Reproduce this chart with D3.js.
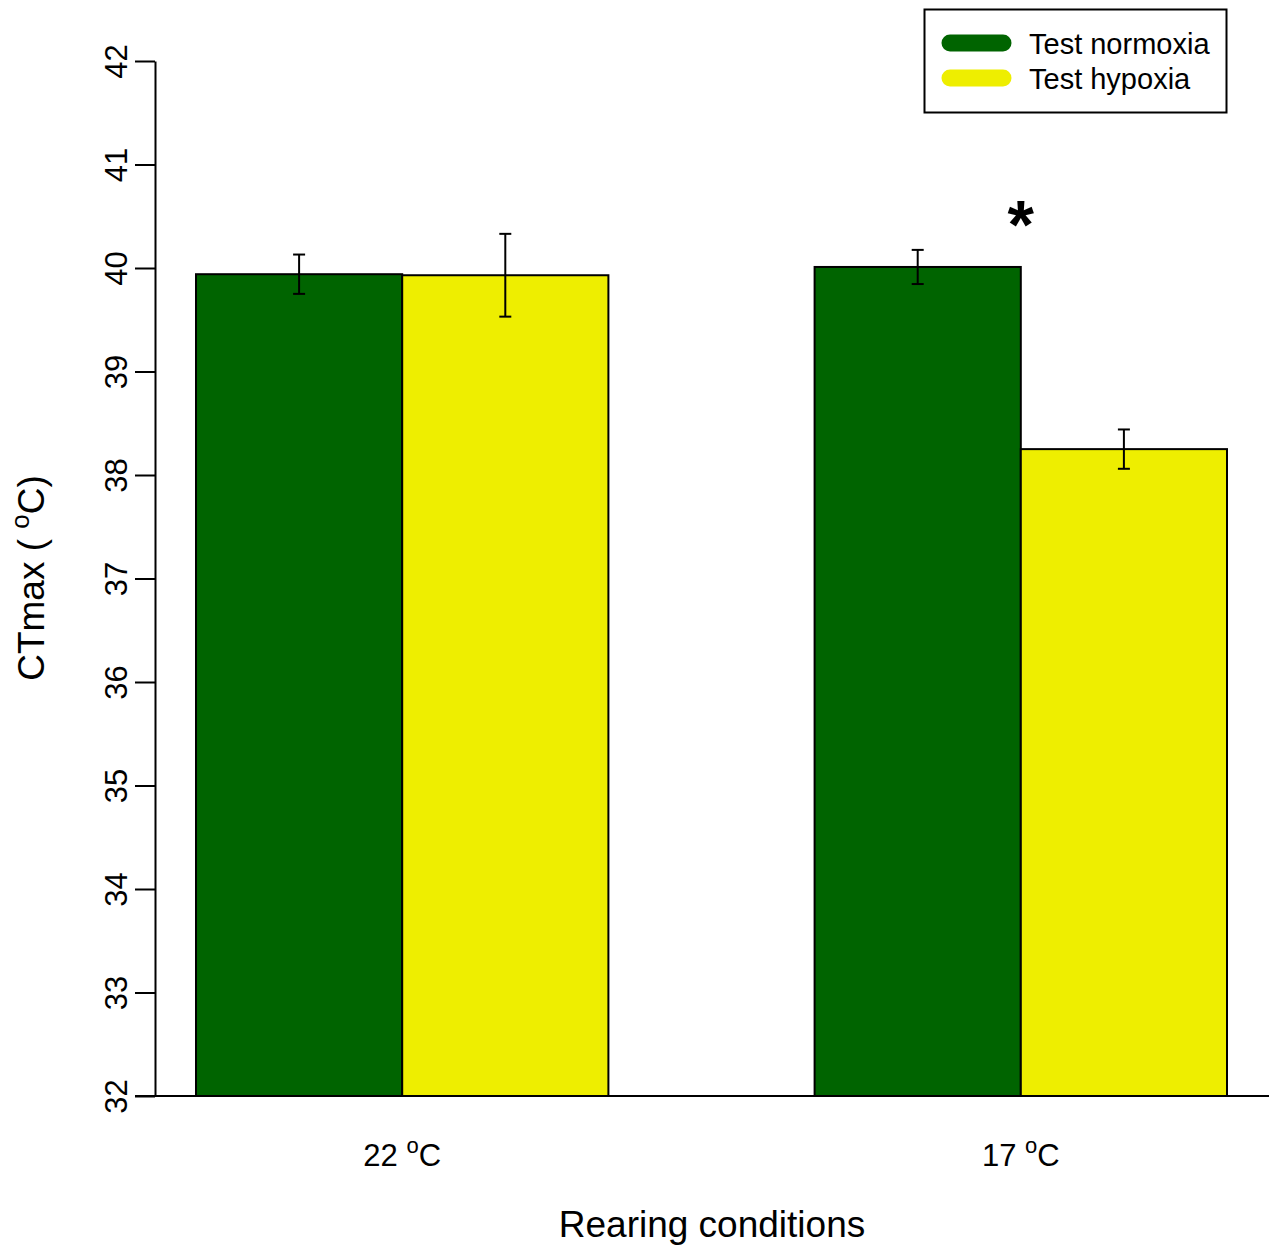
<!DOCTYPE html>
<html>
<head>
<meta charset="utf-8">
<script src="https://cdn.jsdelivr.net/npm/d3@7"></script>
<style>
  body { margin: 0; background: #fff; }
  svg { font-family: "Liberation Sans", Arial, sans-serif; }
</style>
</head>
<body>
<svg id="chart" width="1277" height="1248"></svg>
<script>
const groups = ['22', '17'];
const series = ['Test normoxia', 'Test hypoxia'];
const colors = ['#006400', '#eeee00'];
const means = [
  [39.94, 39.93],
  [40.01, 38.25],
];
const errs = [
  [0.19, 0.40],
  [0.165, 0.19],
];
const yTicks = [32, 33, 34, 35, 36, 37, 38, 39, 40, 41, 42];
const signif = [{ group: '17', label: '*' }];

const svg = d3.select('#chart');

const y = d3.scaleLinear().domain([32, 42]).range([1096, 61]);

const x = d3
  .scaleBand()
  .domain(groups)
  .range([196, 1227])
  .paddingInner(1 / 3)
  .paddingOuter(0);

const xInner = d3.scaleBand().domain(series).range([0, x.bandwidth()]);

// bars
groups.forEach((g, gi) => {
  const row = svg.append('g').attr('transform', `translate(${x(g)},0)`);
  series.forEach((s, si) => {
    row
      .append('rect')
      .attr('x', xInner(s))
      .attr('y', y(means[gi][si]))
      .attr('width', xInner.bandwidth())
      .attr('height', y(32) - y(means[gi][si]))
      .attr('fill', colors[si])
      .attr('stroke', '#000')
      .attr('stroke-width', 2);
  });
});

// error bars
groups.forEach((g, gi) => {
  series.forEach((s, si) => {
    const cx = x(g) + xInner(s) + xInner.bandwidth() / 2;
    const lo = y(means[gi][si] - errs[gi][si]);
    const hi = y(means[gi][si] + errs[gi][si]);
    const eb = svg.append('g').attr('stroke', '#000').attr('stroke-width', 2);
    eb.append('line').attr('x1', cx).attr('x2', cx).attr('y1', lo).attr('y2', hi);
    eb.append('line').attr('x1', cx - 6).attr('x2', cx + 6).attr('y1', lo).attr('y2', lo);
    eb.append('line').attr('x1', cx - 6).attr('x2', cx + 6).attr('y1', hi).attr('y2', hi);
  });
});

// significance marker
signif.forEach((d) => {
  const gi = groups.indexOf(d.group);
  svg
    .append('text')
    .attr('x', x(d.group) + x.bandwidth() / 2)
    .attr('y', y(d3.max(means[gi].map((m, i) => m + errs[gi][i]))) - 2)
    .attr('text-anchor', 'middle')
    .style('font-size', '68px')
    .style('font-weight', 'bold')
    .text(d.label);
});

// y axis
const yAxis = svg
  .append('g')
  .attr('transform', 'translate(155,0)')
  .call(d3.axisLeft(y).tickValues(yTicks).tickSize(20).tickSizeOuter(0).tickPadding(8));
yAxis.select('.domain').attr('stroke-width', 2);
yAxis.selectAll('.tick line').attr('stroke-width', 2);
yAxis
  .selectAll('.tick text')
  .style('font-size', '31px')
  .style('fill', '#000')
  .attr('transform', 'rotate(-90)')
  .attr('x', 0)
  .attr('y', -28)
  .attr('dy', 0)
  .attr('text-anchor', 'middle');

// x axis baseline
svg
  .append('line')
  .attr('x1', 135)
  .attr('x2', 1269)
  .attr('y1', y(32))
  .attr('y2', y(32))
  .attr('stroke', '#000')
  .attr('stroke-width', 2);

// group labels
groups.forEach((g) => {
  const t = svg
    .append('text')
    .attr('x', x(g) + x.bandwidth() / 2)
    .attr('y', 1166)
    .attr('text-anchor', 'middle')
    .style('font-size', '31px');
  t.append('tspan').text(g + ' ');
  t.append('tspan').attr('dy', -13).style('font-size', '22px').text('o');
  t.append('tspan').attr('dy', 13).text('C');
});

// axis titles
svg
  .append('text')
  .attr('x', 712)
  .attr('y', 1237)
  .attr('text-anchor', 'middle')
  .style('font-size', '37px')
  .text('Rearing conditions');

const yt = svg
  .append('text')
  .attr('transform', 'translate(44,578) rotate(-90)')
  .attr('text-anchor', 'middle')
  .style('font-size', '37px');
yt.append('tspan').text('CTmax ( ');
yt.append('tspan').attr('dy', -15).style('font-size', '26px').text('o');
yt.append('tspan').attr('dy', 15).text('C)');

// legend
const legend = svg.append('g');
legend
  .append('rect')
  .attr('x', 924.5)
  .attr('y', 9.5)
  .attr('width', 302)
  .attr('height', 103)
  .attr('fill', '#fff')
  .attr('stroke', '#000')
  .attr('stroke-width', 2);
series.forEach((s, i) => {
  const ly = 43 + i * 35;
  legend
    .append('line')
    .attr('x1', 950)
    .attr('x2', 1003)
    .attr('y1', ly)
    .attr('y2', ly)
    .attr('stroke', colors[i])
    .attr('stroke-width', 17)
    .attr('stroke-linecap', 'round');
  legend
    .append('text')
    .attr('x', 1029)
    .attr('y', ly + 11)
    .style('font-size', '29px')
    .text(s);
});
</script>
</body>
</html>
